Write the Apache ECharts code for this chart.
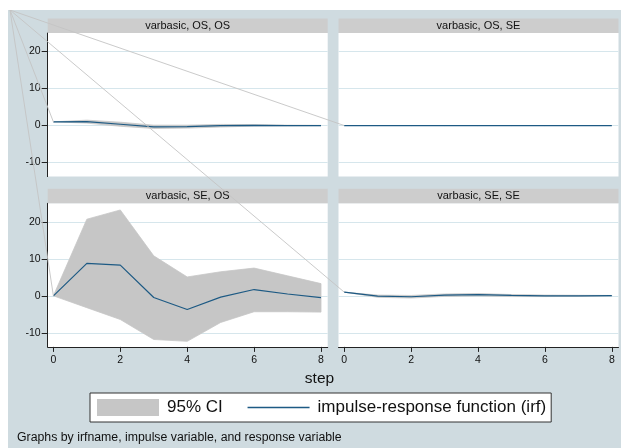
<!DOCTYPE html>
<html><head><meta charset="utf-8">
<script src="https://cdn.jsdelivr.net/npm/echarts@6/dist/echarts.min.js"></script>
<style>html,body{margin:0;padding:0;background:#fff}#c{width:621px;height:448px}</style>
</head><body><div id="c"></div>
<script>
// ---- data ----
const steps = [0, 1, 2, 3, 4, 5, 6, 7, 8];
const xTicks = [0, 2, 4, 6, 8];
const yTicks = [-10, 0, 10, 20];
const panelTitles = ['varbasic, OS, OS', 'varbasic, OS, SE', 'varbasic, SE, OS', 'varbasic, SE, SE'];

const irf_OS_OS = [1.0, 1.05, 0.35, -0.35, -0.3, -0.05, 0.05, 0.0, 0.0];
const lo_OS_OS  = [1.0, 0.65, -0.2, -0.8, -0.7, -0.4, -0.15, -0.1, -0.05];
const hi_OS_OS  = [1.0, 1.45, 0.9, 0.1, 0.1, 0.3, 0.25, 0.1, 0.05];

const irf_OS_SE = [0, 0, 0, 0, 0, 0, 0, 0, 0];
const lo_OS_SE  = [0, 0, 0, 0, 0, 0, 0, 0, 0];
const hi_OS_SE  = [0, 0, 0, 0, 0, 0, 0, 0, 0];

const irf_SE_OS = [0, 8.75, 8.3, -0.45, -3.7, -0.35, 1.7, 0.5, -0.5];
const lo_SE_OS  = [0, -3.2, -6.4, -11.8, -12.3, -7.2, -4.3, -4.3, -4.4];
const hi_SE_OS  = [0, 20.7, 23.2, 10.8, 5.1, 6.5, 7.5, 5.4, 3.3];

const irf_SE_SE = [1.0, -0.1, -0.25, 0.2, 0.3, 0.1, 0.0, 0.0, 0.05];
const lo_SE_SE  = [1.0, -0.4, -0.6, -0.15, -0.05, -0.2, -0.2, -0.15, -0.05];
const hi_SE_SE  = [1.0, 0.2, 0.1, 0.5, 0.6, 0.35, 0.2, 0.15, 0.1];

const panels = [
  {irf: irf_OS_OS, lo: lo_OS_OS, hi: hi_OS_OS},
  {irf: irf_OS_SE, lo: lo_OS_SE, hi: hi_OS_SE},
  {irf: irf_SE_OS, lo: lo_SE_OS, hi: hi_SE_OS},
  {irf: irf_SE_SE, lo: lo_SE_SE, hi: hi_SE_SE}
];
const ciName = '95% CI';
const irfName = 'impulse-response function (irf)';
const xTitle = 'step';
const note = 'Graphs by irfname, impulse variable, and response variable';

// ---- style / layout ----
const FONT = '"Liberation Sans", Arial, Helvetica, sans-serif';
const BG = '#cfdbe0';
const GRIDLINE = '#d6e6ec';
const CI_COLOR = '#c6c6c6';
const IRF_COLOR = '#1d5a84';
const AXIS_COLOR = '#222';
const HEADER = '#cdcdcd';
const grids = [
  {left: 47.7, top: 33, width: 280, height: 143.6},
  {left: 338.5, top: 33, width: 280, height: 143.6},
  {left: 47.7, top: 203.3, width: 280, height: 143.6},
  {left: 338.5, top: 203.3, width: 280, height: 143.6}
];
const headerH = 14.5;

const chart = echarts.init(document.getElementById('c'), null, {renderer: 'canvas'});

const xAxes = grids.map((g, i) => {
  const bottom = i >= 2;
  return {
    type: 'value', gridIndex: i, min: -0.17, max: 8.2,
    show: bottom,
    axisLine: {show: bottom, onZero: false, lineStyle: {color: AXIS_COLOR, width: 1}},
    axisTick: {show: bottom, length: 5, inside: false, customValues: xTicks, lineStyle: {color: AXIS_COLOR}},
    axisLabel: {show: bottom, customValues: xTicks, margin: 8, fontSize: 10.5, color: '#111', fontFamily: FONT},
    splitLine: {show: false}
  };
});
const yAxes = grids.map((g, i) => {
  const left = i % 2 === 0;
  return {
    type: 'value', gridIndex: i, min: -13.8, max: 25,
    axisLine: {show: left, onZero: false, lineStyle: {color: AXIS_COLOR, width: 1}},
    axisTick: {show: left, length: 6, customValues: yTicks, lineStyle: {color: AXIS_COLOR}},
    axisLabel: {show: left, customValues: yTicks, margin: 7, fontSize: 10.5, color: '#111', fontFamily: FONT},
    splitLine: {show: true, lineStyle: {color: GRIDLINE, width: 1}}
  };
});

// CI band: one polygon per panel, built from the data through the axes (api.coord)
function bandRender(params, api) {
  if (params.dataIndexInside !== 0) return null;
  const n = params.dataInsideLength;
  const top = [], bot = [];
  for (let k = 0; k < n; k++) {
    const s = api.value(0, k);
    top.push(api.coord([s, api.value(2, k)]));
    bot.push(api.coord([s, api.value(1, k)]));
  }
  const pts = top.concat(bot.reverse());
  return {
    type: 'polygon', shape: {points: pts},
    style: {fill: CI_COLOR, stroke: CI_COLOR, lineWidth: 0.8}
  };
}

const series = [];
panels.forEach((p, i) => {
  series.push({
    type: 'custom', name: ciName, xAxisIndex: i, yAxisIndex: i,
    renderItem: bandRender, silent: true, z: 1,
    color: CI_COLOR, itemStyle: {color: CI_COLOR},
    encode: {x: 0, y: [1, 2]},
    data: steps.map((s, k) => [s, p.lo[k], p.hi[k]])
  });
  series.push({
    type: 'line', name: irfName, xAxisIndex: i, yAxisIndex: i,
    symbol: 'none', showSymbol: false, silent: true, color: IRF_COLOR,
    lineStyle: {width: 1.2, color: IRF_COLOR}, z: 3,
    data: steps.map((s, k) => [s, p.irf[k]])
  });
});

chart.setOption({
  animation: false,
  backgroundColor: BG,
  textStyle: {fontFamily: FONT},
  grid: grids.map(g => Object.assign({show: true, backgroundColor: '#fff', borderWidth: 0, containLabel: false}, g)),
  xAxis: xAxes,
  yAxis: yAxes,
  legend: {
    data: [
      {name: ciName, icon: 'rect', itemStyle: {color: CI_COLOR}},
      {name: irfName, itemStyle: {opacity: 0}, lineStyle: {color: IRF_COLOR, width: 1.6}}
    ],
    left: 90, top: 393,
    orient: 'horizontal',
    itemWidth: 62, itemHeight: 17, itemGap: 24,
    padding: [6, 5, 6, 7],
    lineStyle: {color: IRF_COLOR, width: 1.6},
    backgroundColor: '#fff', borderColor: '#333', borderWidth: 1, borderRadius: 0,
    textStyle: {fontSize: 17, color: '#111', fontFamily: FONT, padding: [0, 0, 0, 3]},
    selectedMode: false
  },
  series: series
});

// ---- decorations: panel headers, titles, artifact lines ----
const graphics = [
  {type: 'rect', shape: {x: 0, y: 0, width: 621, height: 10}, style: {fill: '#fff'}, z: 100, silent: true},
  {type: 'rect', shape: {x: 0, y: 0, width: 8, height: 448}, style: {fill: '#fff'}, z: 100, silent: true}
];
grids.forEach((g, i) => {
  graphics.push({
    type: 'rect', shape: {x: g.left, y: g.top - headerH, width: g.width, height: headerH},
    style: {fill: HEADER}, z: 5, silent: true
  });
  graphics.push({
    type: 'text', x: g.left + g.width / 2, y: g.top - headerH / 2,
    style: {text: panelTitles[i], fill: '#111', font: '11px ' + FONT, textAlign: 'center', textVerticalAlign: 'middle'},
    z: 6, silent: true
  });
});
graphics.push({
  type: 'text', x: 319.5, y: 379,
  style: {text: xTitle, fill: '#111', font: '15.5px ' + FONT, textAlign: 'center', textVerticalAlign: 'middle'},
  z: 6, silent: true
});
graphics.push({
  type: 'text', x: 17, y: 438,
  style: {text: note, fill: '#111', font: '12.3px ' + FONT, textAlign: 'left', textVerticalAlign: 'middle'},
  z: 6, silent: true
});
panels.forEach((p, i) => {
  const end = chart.convertToPixel({gridIndex: i}, [steps[0], p.irf[0]]);
  graphics.push({
    type: 'line', shape: {x1: 10, y1: 10, x2: end[0], y2: end[1]},
    style: {stroke: '#c4c4c4', lineWidth: 0.9}, z: 50, silent: true
  });
});
chart.setOption({graphic: graphics});
</script></body></html>
